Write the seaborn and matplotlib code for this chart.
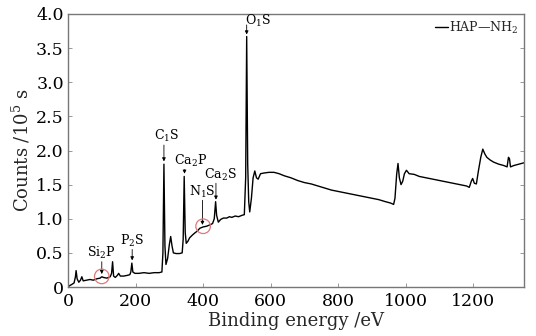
import matplotlib
matplotlib.use("Agg")
import matplotlib.pyplot as plt
import matplotlib.ticker as mticker
import seaborn as sns
import pandas as pd

energy = [0, 5, 12, 18, 22, 24, 27, 32, 37, 41, 45, 55, 65, 75, 85, 95, 100, 105, 115, 125,
          129, 132, 135, 140, 146, 150, 155, 165, 175, 183, 186, 189, 192, 198, 210, 225,
          240, 255, 270, 278, 281, 284, 287, 290, 295, 300, 304, 308, 312, 320, 330, 338,
          341, 344, 347, 350, 355, 360, 368, 375, 383, 390, 400, 410, 420, 428, 433, 437,
          440, 445, 452, 460, 470, 478, 485, 495, 505, 515, 522, 526, 529, 532, 535, 538,
          543, 548, 553, 558, 563, 570, 580, 595, 610, 625, 640, 660, 680, 700, 720, 740,
          760, 780, 800, 820, 840, 860, 880, 900, 920, 940, 955, 964, 968, 973, 977, 981,
          986, 991, 996, 1002, 1010, 1025, 1040, 1060, 1080, 1100, 1120, 1140, 1160, 1180,
          1188, 1194, 1198, 1203, 1209, 1215, 1222, 1228, 1234, 1240, 1250, 1260, 1275,
          1290, 1300, 1304, 1307, 1310, 1320, 1335, 1350]
counts = [0.0, 0.02, 0.04, 0.06, 0.15, 0.24, 0.12, 0.07, 0.10, 0.15, 0.09, 0.10, 0.11, 0.10,
          0.12, 0.13, 0.15, 0.14, 0.13, 0.15, 0.20, 0.37, 0.16, 0.14, 0.17, 0.20, 0.16, 0.16,
          0.17, 0.18, 0.22, 0.35, 0.22, 0.20, 0.20, 0.21, 0.20, 0.21, 0.21, 0.22, 0.50, 1.80,
          0.60, 0.33, 0.42, 0.62, 0.74, 0.60, 0.50, 0.49, 0.49, 0.50, 0.70, 1.62, 0.80, 0.64,
          0.67, 0.72, 0.76, 0.79, 0.82, 0.86, 0.88, 0.89, 0.91, 0.93, 1.00, 1.25, 1.05, 0.95,
          0.99, 1.01, 1.01, 1.03, 1.02, 1.04, 1.03, 1.05, 1.06, 1.60, 3.67, 1.80, 1.25, 1.10,
          1.30, 1.60, 1.70, 1.60, 1.58, 1.66, 1.67, 1.68, 1.68, 1.66, 1.63, 1.60, 1.56, 1.53,
          1.51, 1.48, 1.45, 1.42, 1.40, 1.38, 1.36, 1.34, 1.32, 1.30, 1.28, 1.25, 1.23, 1.21,
          1.30, 1.65, 1.81, 1.60, 1.50, 1.55, 1.66, 1.71, 1.66, 1.65, 1.62, 1.60, 1.58, 1.56,
          1.54, 1.52, 1.50, 1.48, 1.46, 1.55, 1.59, 1.52, 1.51, 1.70, 1.90, 2.02, 1.95, 1.90,
          1.86, 1.83, 1.80, 1.78, 1.76, 1.90, 1.88, 1.76, 1.78, 1.80, 1.82]

# peak annotations: label, arrow x, arrow start y, arrow tip y, text x, text y
peak_labels = ["Si$_2$P", "P$_2$S", "C$_1$S", "Ca$_2$P", "N$_1$S", "Ca$_2$S", "O$_1$S"]
arrow_x = [100, 190, 284, 345, 398, 438, 529]
arrow_y0 = [0.37, 0.55, 2.08, 1.72, 1.27, 1.52, 3.84]
arrow_y1 = [0.19, 0.39, 1.84, 1.66, 0.91, 1.28, 3.70]
text_x = [98, 190, 292, 362, 397, 452, 562]
text_y = [0.38, 0.56, 2.09, 1.73, 1.28, 1.53, 3.78]

circle_x = [100, 400]
circle_y = [0.155, 0.89]

xticks = [0, 200, 400, 600, 800, 1000, 1200]
yticks = [0, 0.5, 1.0, 1.5, 2.0, 2.5, 3.0, 3.5, 4.0]

sns.set_theme(style="white")
plt.rcParams["font.family"] = ["DejaVu Serif"]
plt.rcParams["mathtext.fontset"] = "dejavuserif"

df = pd.DataFrame({"energy": energy, "counts": counts})

fig = plt.figure(figsize=(5.36, 3.36), dpi=100)
ax = fig.add_axes([68 / 536, 1 - 287 / 336, (524 - 68) / 536, (287 - 14) / 336])

sns.lineplot(data=df, x="energy", y="counts", color="black", linewidth=1.0,
             label="HAP\u2014NH$_2$", ax=ax)

ax.scatter(circle_x, circle_y, s=110, facecolors="none", edgecolors="#e07878",
           linewidths=0.9, zorder=4)

for lab, ax_x, y0, y1, tx, ty in zip(peak_labels, arrow_x, arrow_y0, arrow_y1, text_x, text_y):
    ax.annotate("", xy=(ax_x, y1), xytext=(ax_x, y0),
                arrowprops=dict(arrowstyle="-|>", lw=0.6, color="black",
                                mutation_scale=5, shrinkA=0, shrinkB=0))
    ax.text(tx, ty, lab, ha="center", va="bottom", fontsize=9, color="black")

ax.set_xlim(0, 1350)
ax.set_ylim(0, 4.0)
ax.set_xticks(xticks)
ax.set_yticks(yticks)
ax.yaxis.set_major_formatter(mticker.FuncFormatter(lambda v, p: "0" if v == 0 else f"{v:.1f}"))
ax.tick_params(axis="both", direction="in", length=3, width=0.6, colors="#888888",
               labelcolor="black", labelsize=12.5)
ax.tick_params(axis="y", right=True, left=True, pad=3)
ax.tick_params(axis="x", bottom=True, pad=4)

for s in ax.spines.values():
    s.set_color("#777777")
    s.set_linewidth(1.0)

ax.set_xlabel("Binding energy /eV", fontsize=13, labelpad=2)
ax.set_ylabel("Counts /10$^5$ s", fontsize=13, labelpad=3)

leg = ax.legend(loc="upper right", frameon=False, fontsize=9, handlelength=1.0,
                handletextpad=0.1, borderaxespad=0.05)

fig.savefig("out.png", dpi=100)
